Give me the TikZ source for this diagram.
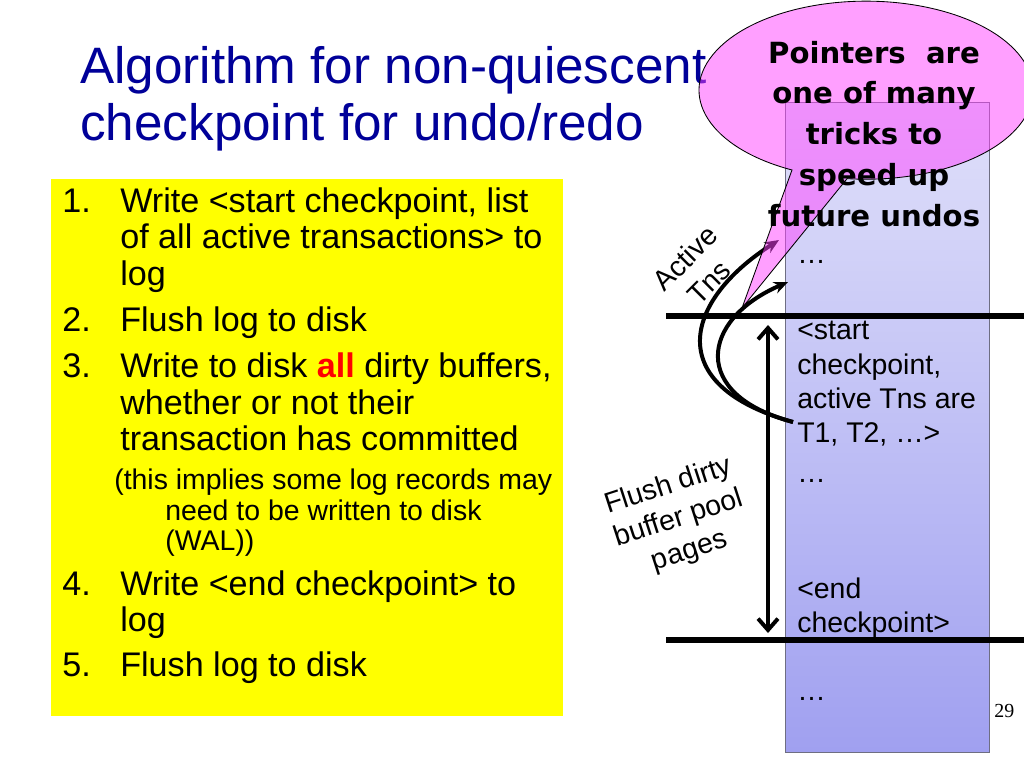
\documentclass[tikz,border=0pt]{standalone}
\usepackage{fontspec}
\setmainfont{Liberation Sans}
\newfontfamily\calloutfont{DejaVu Sans}
\newfontfamily\pagefont{Liberation Serif}
\usetikzlibrary{arrows.meta}
\definecolor{titleblue}{RGB}{0,0,153}
\definecolor{boxyellow}{RGB}{255,255,0}
\definecolor{allred}{RGB}{255,0,0}
\definecolor{logtop}{RGB}{224,224,250}
\definecolor{logbottom}{RGB}{160,160,240}
\definecolor{logborder}{RGB}{110,110,130}
\definecolor{callpink}{RGB}{255,65,255}
\tikzset{
  titletxt/.style={font=\fontsize{36}{40}\selectfont, text=titleblue, anchor=base west, inner sep=0pt},
  bodytxt/.style={font=\fontsize{24}{25}\selectfont, anchor=base west, inner sep=0pt},
  notetxt/.style={font=\fontsize{20}{22}\selectfont, anchor=base west, inner sep=0pt},
  logtxt/.style={font=\fontsize{20}{22}\selectfont, anchor=base west, inner sep=0pt},
  sidetxt/.style={font=\fontsize{20}{24}\selectfont, align=center, inner sep=0pt},
  calltxt/.style={font=\calloutfont\bfseries\fontsize{20.5}{22}\selectfont, anchor=base, inner sep=0pt},
  divider/.style={line width=3.6pt},
  curvearrow/.style={line width=2.8pt, -{Stealth[length=10pt,width=8.5pt]}},
  spanarrow/.style={line width=2.8pt, {Straight Barb[length=8pt,width=14pt,line width=2.8pt]}-{Straight Barb[length=8pt,width=14pt,line width=2.8pt]}},
}
\begin{document}
\begin{tikzpicture}[x=0.703125pt,y=-0.703125pt]
\useasboundingbox (0,0) rectangle (1024,768);
\fill[white] (0,0) rectangle (1024,768);

% title
\node[titletxt] (title1) at (80,84) {Algorithm for non-quiescent};
\node[titletxt] (title2) at (80,141) {checkpoint for undo/redo};

% yellow list box
\fill[boxyellow] (51,179) rectangle (563,716);
\node[bodytxt] (n1) at (62,213) {1.};
\node[bodytxt] (i1a) at (120,213) {Write <start checkpoint, list};
\node[bodytxt] (i1b) at (120,249) {of all active transactions> to};
\node[bodytxt] (i1c) at (120,286) {log};
\node[bodytxt] (n2) at (62,331) {2.};
\node[bodytxt] (i2a) at (120,331) {Flush log to disk};
\node[bodytxt] (n3) at (62,377) {3.};
\node[bodytxt] (i3a) at (120,377) {Write to disk {\bfseries\color{allred}all} dirty buffers,};
\node[bodytxt] (i3b) at (120,414) {whether or not their};
\node[bodytxt] (i3c) at (120,450) {transaction has committed};
\node[notetxt] (i3d) at (114,489) {(this implies some log records may};
\node[notetxt] (i3e) at (165,520) {need to be written to disk};
\node[notetxt] (i3f) at (165,550) {(WAL))};
\node[bodytxt] (n4) at (62,595) {4.};
\node[bodytxt] (i4a) at (120,595) {Write <end checkpoint> to};
\node[bodytxt] (i4b) at (120,631) {log};
\node[bodytxt] (n5) at (62,676) {5.};
\node[bodytxt] (i5a) at (120,676) {Flush log to disk};

% log column
\shade[top color=logtop, bottom color=logbottom] (785,103) rectangle (989,752);
\draw[logborder, line width=0.7pt] (785,103) rectangle (989,752);

\node[logtxt] (d1) at (797,264) {…};
\node[logtxt] (s1) at (797,340) {<start};
\node[logtxt] (s2) at (797,374) {checkpoint,};
\node[logtxt] (s3) at (797,408) {active Tns are};
\node[logtxt] (s4) at (797,442) {T1, T2, …>};
\node[logtxt] (d2) at (797,482) {…};
\node[logtxt] (e1) at (797,598) {<end};
\node[logtxt] (e2) at (797,632) {checkpoint>};
\node[logtxt] (d3) at (797,700) {…};

% dividers
\coordinate (l1a) at (666,316);
\coordinate (l1b) at (1024,316);
\coordinate (l2a) at (666,640);
\coordinate (l2b) at (1024,640);
\draw[divider] (l1a) -- (l1b);
\draw[divider] (l2a) -- (l2b);

% span arrow
\coordinate (spanTop) at (768,325);
\coordinate (spanBot) at (768,633);
\draw[spanarrow] (spanTop) -- (spanBot);

% pointer curves
\coordinate (ptrStart) at (793,422);
\coordinate (ptrOuter) at (779,240);
\coordinate (ptrInner) at (788,282);
\draw[curvearrow] (ptrStart) .. controls (660,385) and (685,300) .. (ptrOuter);
\draw[curvearrow] (ptrStart) .. controls (690,395) and (700,320) .. (ptrInner);

% side labels
\node[sidetxt, rotate=45] (active) at (697,270) {Active\\Tns};
\node[sidetxt, rotate=18] (flush) at (679,519) {Flush dirty\\buffer pool\\pages};

% callout
\coordinate (callA) at (792,170);
\coordinate (callTip) at (742,308);
\path[fill=callpink, fill opacity=0.5, draw=black, line width=0.6pt]
  (callA) arc[start angle=243.7, end angle=-96.5, x radius=117.4pt, y radius=62.6pt] -- (callTip) -- cycle;
\node[calltxt] (c1) at (874,64) {Pointers\ \ are};
\node[calltxt] (c2) at (874,104) {one of many};
\node[calltxt] (c3) at (874,145) {tricks to};
\node[calltxt] (c4) at (874,186) {speed up};
\node[calltxt] (c5) at (874,227) {future undos};

% page number
\node[font=\pagefont\fontsize{14}{16}\selectfont, anchor=base west, inner sep=0pt] (pg) at (994,717) {29};
\end{tikzpicture}
\end{document}
